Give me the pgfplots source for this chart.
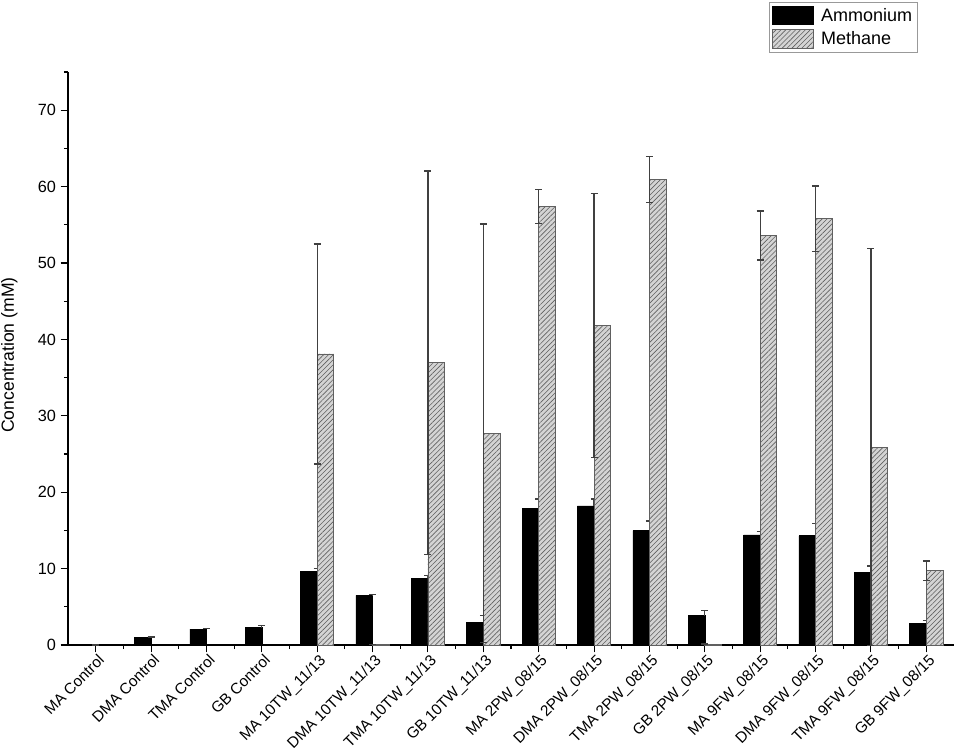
\documentclass[border=0pt]{standalone}
\usepackage{pgfplots}
\pgfplotsset{compat=1.18}
\usepackage{fontspec}
\setmainfont{Liberation Sans}
\usetikzlibrary{patterns.meta}
\definecolor{hatchfill}{HTML}{D4D4D4}
\definecolor{hatchline}{HTML}{606060}
\definecolor{errcol}{HTML}{404040}
\begin{document}
\begin{tikzpicture}
\begin{axis}[
  scale only axis,
  width=664.5pt, height=429.75pt,
  xmin=-0.5, xmax=15.5,
  ymin=0, ymax=75,
  axis x line*=bottom,
  axis y line*=left,
  axis line style={line width=1pt, black},
  xtick={0,...,15},
  minor xtick={0.5,1.5,...,14.5},
  xticklabels={MA Control, DMA Control, TMA Control, GB Control, MA 10TW\_11/13, DMA 10TW\_11/13, TMA 10TW\_11/13, GB 10TW\_11/13, MA 2PW\_08/15, DMA 2PW\_08/15, TMA 2PW\_08/15, GB 2PW\_08/15, MA 9FW\_08/15, DMA 9FW\_08/15, TMA 9FW\_08/15, GB 9FW\_08/15},
  x tick label style={rotate=45, anchor=north east, font=\fontsize{11.5pt}{13pt}\selectfont, inner sep=1pt, xshift=1.5pt, yshift=0pt},
  ytick={0,10,...,70},
  yticklabels={0,10,20,30,40,50,60,70},
  minor ytick={5,15,...,75},
  y tick label style={font=\fontsize{12.2pt}{14pt}\selectfont},
  /pgf/number format/assume math mode=true,
  tick align=outside,
  major tick length=5.5pt,
  minor tick length=3pt,
  tick style={line width=0.8pt, black},
  ylabel={Concentration (mM)},
  every axis y label/.style={at={(rel axis cs:0,0.506)}, xshift=-44pt, rotate=90, anchor=center,
    font=\fontsize{13.2pt}{15pt}\selectfont},
  bar width=0.3,
  legend style={at={(0.791,1.122)}, anchor=north west, draw=gray!80, line width=0.8pt,
    font=\fontsize{13.5pt}{16pt}\selectfont, inner xsep=2pt, inner ysep=2pt, row sep=2.5pt,
    cells={anchor=west}, /tikz/every odd column/.append style={column sep=3pt}},
  clip=false,
]
\addlegendimage{legend image code/.code={\draw[black,fill=black] (0pt,-7pt) rectangle (31pt,7pt);}}
\addlegendentry{Ammonium}
\addlegendimage{legend image code/.code={\draw[hatchline,fill=hatchfill,line width=0.6pt,postaction={pattern={Lines[angle=45,distance=2.6pt,line width=0.45pt]},pattern color=hatchline}] (0pt,-7pt) rectangle (31pt,7pt);}}
\addlegendentry{Methane}

% Ammonium
\addplot[ybar, bar shift=-0.15, draw=black, fill=black, forget plot,
  error bars/.cd, y dir=plus, y explicit,
  error bar style={line width=1pt, errcol},
  error mark options={rotate=90, mark size=2.6pt, line width=1pt, errcol}]
coordinates {
 (0,0) +- (0,0)
 (1,1.0) +- (0,0.05)
 (2,2.09) +- (0,0.08)
 (3,2.26) +- (0,0.3)
 (4,9.62) +- (0,0.4)
 (5,6.49) +- (0,0.1)
 (6,8.75) +- (0,0.35)
 (7,2.96) +- (0,0.9)
 (8,17.85) +- (0,1.25)
 (9,18.2) +- (0,0.9)
 (10,14.98) +- (0,1.25)
 (11,3.83) +- (0,0.7)
 (12,14.4) +- (0,0.45)
 (13,14.3) +- (0,1.6)
 (14,9.53) +- (0,0.8)
 (15,2.78) +- (0,0.4)
};
% Methane
\addplot[ybar, bar shift=0.15, draw=hatchline, line width=0.6pt, fill=hatchfill,
  postaction={pattern={Lines[angle=45,distance=2.6pt,line width=0.45pt]},pattern color=hatchline},
  forget plot,
  error bars/.cd, y dir=both, y explicit,
  error bar style={line width=1pt, errcol},
  error mark options={rotate=90, mark size=2.6pt, line width=1pt, errcol}]
coordinates {
 (5,0.08) +- (0,0)
 (4,38.1) +- (0,14.4)
 (6,36.96) +- (0,25.1)
 (7,27.7) +- (0,27.4)
 (8,57.4) +- (0,2.2)
 (9,41.8) +- (0,17.3)
 (10,60.9) +- (0,3.0)
 (11,0.12) +- (0,0)
 (12,53.6) +- (0,3.2)
 (13,55.8) +- (0,4.3)
 (14,25.9) +- (0,26.0)
 (15,9.7) +- (0,1.3)
};
\end{axis}
\pgfresetboundingbox
\path[use as bounding box] (-51pt,-76.5pt) rectangle (666.75pt,483.75pt);
\end{tikzpicture}
\end{document}
